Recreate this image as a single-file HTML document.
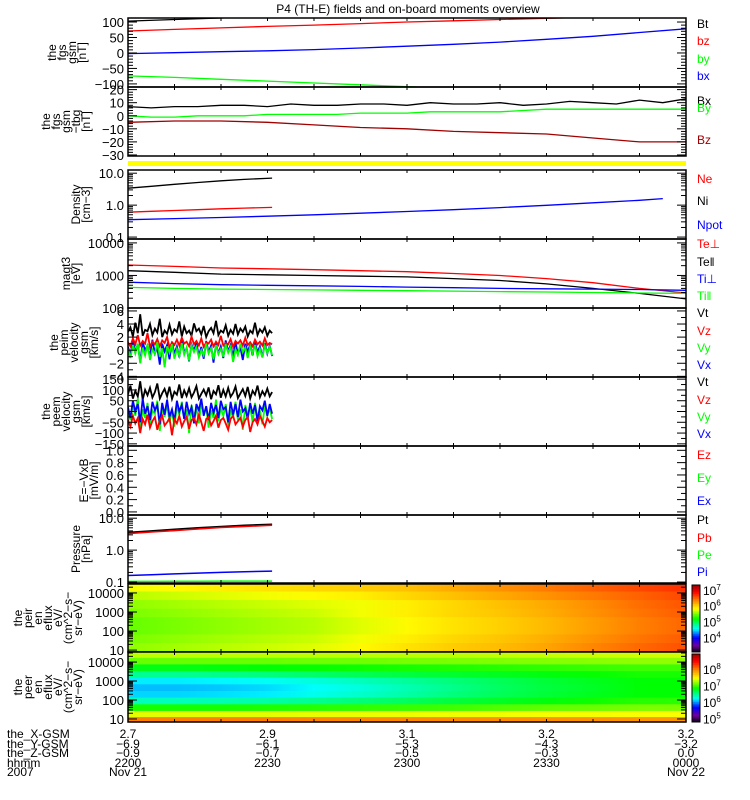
<!DOCTYPE html>
<html><head><meta charset="utf-8">
<style>
html,body{margin:0;padding:0;background:#fff;}
svg{display:block;font-family:"Liberation Sans",sans-serif;}
text{font-size:11px;}
</style></head>
<body>
<svg id="chart" width="750" height="800" viewBox="0 0 750 800">
<rect x="0" y="0" width="750" height="800" fill="#fff"/>
<text x="408" y="13" text-anchor="middle" style="font-size:12px">P4 (TH-E) fields and on-board moments overview</text>
<defs id="defs"></defs>
<g id="g"></g>
</svg>
<script>
// ---- data arrays ----
const t10 = [0,10,20,30,40,50,60,70,80,90,100,110,120];
const t5 = [0,5,10,15,20,25,30,35,40,45,50,55,60,65,70,75,80,85,90,95,100,105,110,115,120];
const fgsBt = [103,108,113,118,123,128,133,138,143,148,153,158,163];
const fgsBz = [71,76,81,86,90,95,100,104,108,112,116,120,124];
const fgsBy = [-74,-79,-85,-91,-97,-103,-109,-115,-121,-127,-133,-139,-145];
const fgsBx = [-2,1,4,7,11,16,22,28,35,44,54,66,78];
const tbgBx = [7,6,7,7,8,8,7,9,8,8,9,9,8,10,9,9,10,8,9,11,10,9,12,10,13];
const tbgBy = [0,-1,-1,0,0,0,1,1,1,1,2,2,2,3,3,3,3,4,5,5,5,5,5,5,5];
const tbgBz = [-5,-4,-4,-5,-7,-9,-10,-12,-13,-14,-17,-20,-20];
const tDens = [0,5,10,15,20,25,31];
const densNi = [3.4,3.9,4.5,5.1,5.8,6.4,7.0];
const densNe = [0.6,0.64,0.68,0.72,0.77,0.81,0.85];
const tNpot = [0,10,20,30,40,50,60,70,80,90,100,110,115];
const densNpot = [0.35,0.38,0.41,0.45,0.5,0.56,0.63,0.72,0.84,0.99,1.18,1.42,1.6];
const tempTePerp = [2100,1900,1700,1600,1500,1400,1300,1150,1000,800,600,400,290];
const tempTePar = [1400,1250,1100,1050,1000,950,900,800,700,550,400,280,190];
const tempTiPerp = [620,560,520,500,480,460,440,420,400,390,380,370,350];
const tempTiPar = [430,400,380,370,360,350,340,330,320,310,300,290,280];
const vimVt = [2.8,3.5,2.1,4.2,2.6,5.5,2.2,3.1,2.9,4.0,2.3,3.3,2.7,4.8,2.0,3.0,2.5,3.9,2.4,3.2,2.8,4.4,2.1,3.6,2.6,3.0,2.2,4.1,2.9,3.3,2.4,3.7,2.0,2.9,3.4,2.6,4.5,2.3,3.0,2.7,3.8,2.2,3.1,2.5,4.0,2.4,3.3,2.8,3.6,2.1,3.0,2.6,4.2,2.3,3.2,2.7,3.5,2.2,3.0,2.6];
const vimVz = [1.2,0.6,1.8,0.9,2.3,0.7,1.4,1.0,2.6,0.5,1.3,0.9,1.7,0.6,1.5,1.1,2.0,0.4,1.2,0.8,1.6,0.7,1.9,1.0,1.3,0.6,2.1,0.9,1.4,0.7,1.8,0.5,1.2,1.0,1.6,0.6,1.3,0.8,2.2,0.7,1.1,0.9,1.7,0.5,1.4,1.0,1.5,0.7,1.9,0.8,1.2,0.6,1.6,0.9,1.3,0.7,1.8,0.8,1.1,0.9];
const vimVy = [0.2,-1.2,0.8,-0.5,1.0,-2.0,0.4,-0.8,0.9,-1.5,0.1,-0.6,1.2,-1.0,0.3,-2.6,0.6,-0.4,0.9,-1.3,0.2,-0.9,1.1,-0.7,0.4,-1.6,0.7,-0.3,0.5,-1.1,0.0,-0.8,1.0,-0.5,0.3,-1.4,0.8,-0.6,0.2,-1.0,0.9,-0.4,0.5,-1.8,0.1,-0.7,1.0,-0.3,0.4,-1.2,0.6,-0.5,0.8,-0.9,0.2,-1.1,0.7,-0.4,0.5,-0.8];
const vimVx = [0.5,-0.8,1.5,-0.3,0.9,-1.8,1.2,0.0,0.7,-1.0,1.6,-0.5,0.4,-2.2,1.0,-0.2,0.8,-1.4,1.3,-0.6,0.6,-1.1,1.8,-0.4,0.3,-1.7,0.9,-0.1,1.1,-0.9,0.5,-1.3,1.4,-0.3,0.7,-1.9,1.0,-0.5,0.6,-1.2,1.5,-0.2,0.8,-1.0,1.2,-0.6,0.4,-1.5,1.0,-0.3,0.9,-0.8,1.3,-0.4,0.6,-1.1,1.1,-0.5,0.7,-0.9];
const vemVt = [80,120,60,95,70,140,55,100,75,110,65,90,130,60,85,105,70,115,58,92,78,125,62,98,72,108,66,88,118,60,82,102,74,112,57,95,80,122,64,100,70,110,68,86,116,62,84,104,72,114,60,96,78,120,66,94,74,106,70,90];
const vemVz = [-40,-70,-20,-55,-30,-100,-35,-60,-15,-75,-45,-25,-85,-40,-20,-65,-50,-30,-110,-35,-55,-20,-70,-45,-25,-80,-40,-30,-60,-15,-50,-90,-35,-25,-65,-45,-20,-75,-40,-30,-55,-85,-35,-20,-60,-45,-30,-70,-40,-25,-95,-50,-35,-60,-20,-45,-70,-30,-50,-40];
const vemVy = [0,-40,30,-20,60,-80,10,-30,40,-60,5,-10,50,-90,20,-25,35,-50,0,-70,25,-15,45,-35,10,-100,30,-20,15,-55,40,-10,20,-75,5,-30,55,-45,15,-20,35,-65,0,-25,45,-40,10,-85,30,-15,20,-50,40,-30,5,-60,25,-20,15,-35];
const vemVx = [20,-30,50,0,35,-50,60,-10,25,-40,45,5,30,-60,40,-15,55,-25,10,-45,50,0,30,-35,45,-10,20,-55,35,5,60,-20,25,-40,40,-5,30,-30,50,10,20,-50,45,-15,35,-25,55,0,15,-35,40,-10,30,-45,25,5,50,-20,35,-10];
const tPres = [0,5,10,15,20,25,31];
const presPt = [3.6,4.0,4.5,5.0,5.5,6.0,6.5];
const presPb = [3.3,3.7,4.1,4.6,5.1,5.5,6.0];
const presPi = [0.16,0.17,0.18,0.19,0.2,0.21,0.22];
const presPe = [0.105,0.105,0.106,0.106,0.107,0.107,0.107];
const eirE = [4.3,3.85,3.4,2.95,2.5,2.05,1.6,1.15];
const eirFlux = [
 [5.8,5.85,5.9,5.95,6.0,6.05,6.1,6.2,6.3,6.4,6.5,6.6,6.7],
 [5.65,5.7,5.75,5.8,5.85,5.9,6.0,6.1,6.2,6.3,6.4,6.5,6.6],
 [5.55,5.6,5.65,5.7,5.75,5.8,5.9,6.0,6.1,6.2,6.32,6.45,6.55],
 [5.5,5.55,5.6,5.65,5.7,5.8,5.9,6.0,6.08,6.18,6.3,6.42,6.52],
 [5.45,5.5,5.55,5.6,5.65,5.75,5.85,5.95,6.03,6.13,6.25,6.38,6.48],
 [5.45,5.5,5.55,5.6,5.65,5.75,5.85,5.95,6.03,6.13,6.25,6.38,6.48],
 [5.5,5.55,5.6,5.65,5.7,5.8,5.9,6.0,6.08,6.18,6.3,6.42,6.52],
 [5.55,5.6,5.65,5.7,5.75,5.85,5.95,6.05,6.12,6.22,6.35,6.47,6.57]];
const eerE = [4.4,4.05,3.7,3.35,3.0,2.65,2.3,1.95,1.6,1.25,0.95];
const eerFlux = [
 [7.3,7.3,7.3,7.3,7.3,7.3,7.3,7.3,7.32,7.33,7.34,7.35,7.35],
 [7.1,7.1,7.1,7.1,7.12,7.12,7.14,7.15,7.16,7.17,7.18,7.2,7.2],
 [6.8,6.8,6.82,6.84,6.86,6.88,6.9,6.92,6.94,6.96,6.98,7.0,7.0],
 [6.5,6.5,6.52,6.55,6.6,6.65,6.7,6.74,6.78,6.82,6.86,6.9,6.9],
 [6.2,6.2,6.22,6.26,6.32,6.4,6.48,6.56,6.64,6.72,6.78,6.84,6.85],
 [6.1,6.1,6.12,6.16,6.24,6.32,6.42,6.52,6.62,6.7,6.76,6.84,6.85],
 [6.15,6.15,6.17,6.2,6.28,6.36,6.45,6.55,6.64,6.72,6.78,6.84,6.85],
 [6.4,6.4,6.42,6.45,6.5,6.56,6.62,6.7,6.76,6.82,6.88,6.94,6.95],
 [6.9,6.9,6.9,6.92,6.94,6.96,6.98,7.0,7.04,7.08,7.1,7.14,7.15],
 [7.4,7.4,7.4,7.4,7.41,7.42,7.42,7.43,7.43,7.44,7.44,7.45,7.45],
 [8.0,8.0,8.0,8.0,7.98,7.97,7.96,7.95,7.94,7.93,7.92,7.9,7.9]];
const bottomRowLabels = ["the_X-GSM","the_Y-GSM","the_Z-GSM","hhmm","2007"];
const bottomTickMin = [0,30,60,90,120];
const bottomValues = [
 ["2.7","2.9","3.1","3.2","3.2"],
 ["\u22126.9","\u22126.1","\u22125.3","\u22124.3","\u22123.2"],
 ["\u22120.9","\u22120.7","\u22120.5","\u22120.3","0.0"],
 ["2200","2230","2300","2330","0000"],
 ["Nov 21","","","","Nov 22"]];

// ---- rendering ----
const NS="http://www.w3.org/2000/svg";
const G=document.getElementById('g');
const DEFS=document.getElementById('defs');
const X0=128, X1=686;
function xT(m){return X0+m*(X1-X0)/120;}
function mk(tag,attrs,parent){const e=document.createElementNS(NS,tag);for(const k in attrs)e.setAttribute(k,attrs[k]);(parent||G).appendChild(e);return e;}
function txt(x,y,s,attrs,parent){const e=mk('text',Object.assign({x:x,y:y},attrs||{}),parent);e.textContent=s;return e;}

const panels={};
function panel(id,top,bot,vmin,vmax,log){
  const p={id,top,bot,vmin,vmax,log};
  p.y=v=>{const a=log?Math.log10(v):v;return bot-(a-vmin)/(vmax-vmin)*(bot-top);};
  const cp=mk('clipPath',{id:'cp-'+id},DEFS);
  mk('rect',{x:X0,y:top,width:X1-X0,height:bot-top},cp);
  p.g=mk('g',{'clip-path':'url(#cp-'+id+')'});
  
  
  panels[id]=p;return p;
}
function frame(p){
  const f=mk('rect',{x:X0,y:p.top,width:X1-X0,height:p.bot-p.top,fill:'none',stroke:'#000','stroke-width':1.5});
  
  
  for(let m=10;m<120;m+=10){
    mk('line',{x1:xT(m),x2:xT(m),y1:p.top,y2:p.top+3,stroke:'#000'});
    mk('line',{x1:xT(m),x2:xT(m),y1:p.bot,y2:p.bot-3,stroke:'#000'});
  }
}
function yticks(p,major,labels,minor){
  major.forEach((v,i)=>{const y=p.y(v);
    mk('line',{x1:X0,x2:X0+9,y1:y,y2:y,stroke:'#000'});
    mk('line',{x1:X1-9,x2:X1,y1:y,y2:y,stroke:'#000'});
    const l=txt(124,y+5,labels[i],{'text-anchor':'end',style:'font-size:13px'});
    
    
  });
  (minor||[]).forEach(v=>{const y=p.y(v);
    mk('line',{x1:X0,x2:X0+5,y1:y,y2:y,stroke:'#000'});
    mk('line',{x1:X1-5,x2:X1,y1:y,y2:y,stroke:'#000'});
  });
}
function logMinor(d0,d1){const r=[];for(let d=d0;d<d1;d++)for(let k=2;k<10;k++)r.push(k*Math.pow(10,d));return r;}
function line(p,ts,vs,color,name,w){
  const pts=ts.map((t,i)=>xT(t).toFixed(1)+','+p.y(vs[i]).toFixed(1)).join(' ');
  const e=mk('polyline',{points:pts,fill:'none',stroke:color,'stroke-width':w||1.3},p.g);
  
  
}
function seqT(n,end){const r=[];for(let i=0;i<n;i++)r.push(i*end/(n-1));return r;}
function ylabel(p,lines,xr){
  const cy=(p.top+p.bot)/2;
  const n=lines.length;
  lines.forEach((s,i)=>{const x=xr-(n-1-i)*10;
    const e=txt(x,cy,s,{transform:'rotate(-90 '+x+' '+cy+')','text-anchor':'middle',style:'font-size:12px'});
    
    
  });
}
function legend(items){
  items.forEach(([s,c,y])=>{const e=txt(697,y+4,s,{fill:c,style:'font-size:12px'});
    
    });
}
const cmStops=[[0,[0,0,0]],[0.1,[110,0,160]],[0.22,[0,0,255]],[0.35,[0,255,255]],[0.5,[0,255,0]],[0.65,[255,255,0]],[0.78,[255,128,0]],[0.9,[255,0,0]],[1,[160,0,0]]];
function cmap(f){f=Math.max(0,Math.min(1,f));for(let i=1;i<cmStops.length;i++){if(f<=cmStops[i][0]){const a=cmStops[i-1],b=cmStops[i];const u=(f-a[0])/(b[0]-a[0]);const c=a[1].map((v,k)=>Math.round(v+(b[1][k]-v)*u));return 'rgb('+c.join(',')+')';}}return 'rgb(160,0,0)';}
function spec(p,E,F,zmin,zmax,name){
  for(let r=0;r<E.length;r++){
    const eTop=r===0?E[0]+(E[0]-E[1])/2:(E[r-1]+E[r])/2;
    const eBot=r===E.length-1?E[r]-(E[r-1]-E[r])/2:(E[r]+E[r+1])/2;
    const yT=p.bot-(eTop-p.vmin)/(p.vmax-p.vmin)*(p.bot-p.top);
    const yB=p.bot-(eBot-p.vmin)/(p.vmax-p.vmin)*(p.bot-p.top);
    const gid='grad-'+name+'-'+r;
    const lg=mk('linearGradient',{id:gid,x1:0,x2:1,y1:0,y2:0},DEFS);
    for(let c=0;c<t10.length;c++){
      mk('stop',{offset:(t10[c]/120).toFixed(4),'stop-color':cmap((F[r][c]-zmin)/(zmax-zmin))},lg);
    }
    const e=mk('rect',{x:X0,y:yT.toFixed(1),width:X1-X0,height:(yB-yT+0.7).toFixed(1),fill:'url(#'+gid+')'},p.g);
    
    
  }
}
function colorbar(top,bot,zmin,zmax,labels,name){
  const g=mk('g',{});
  
  
  const n=40;for(let i=0;i<n;i++){const y=bot-(i+1)*(bot-top)/n;
    mk('rect',{x:692,y:y.toFixed(1),width:8,height:((bot-top)/n+0.5).toFixed(1),fill:cmap((i+0.5)/n)},g);}
  mk('rect',{x:692,y:top,width:8,height:bot-top,fill:'none',stroke:'#000'},g);
  labels.forEach(d=>{const y=bot-(d-zmin)/(zmax-zmin)*(bot-top);
    const e=txt(703,y+5,'10',{style:'font-size:12px'},g);
    const s=mk('tspan',{dy:-5,style:'font-size:8px'},e);s.textContent=String(d);});
}

let p=panel('fgs-gsm',18,87,-110,113,false);
line(p,t10,fgsBt,'#000','series-bt');line(p,t10,fgsBz,'#ff0000','series-bz');
line(p,t10,fgsBy,'#00ff00','series-by');line(p,t10,fgsBx,'#0000ff','series-bx');
frame(p);yticks(p,[100,50,0,-50,-100],['100','50','0','\u221250','\u2212100'],[90,80,70,60,40,30,20,10,-10,-20,-30,-40,-60,-70,-80,-90]);
ylabel(p,['the','fgs','gsm','[nT]'],86);
legend([['Bt','#000',24],['bz','#ff0000',41],['by','#00ff00',59],['bx','#0000ff',76]]);

p=panel('fgs-gsm-tbg',87,156,-30.8,22,false);
line(p,t5,tbgBx,'#000','series-tbg-bx');line(p,t5,tbgBy,'#00ff00','series-tbg-by');line(p,t10,tbgBz,'#a00000','series-tbg-bz');
frame(p);yticks(p,[20,10,0,-10,-20,-30],['20','10','0','\u221210','\u221220','\u221230'],[18,16,14,12,8,6,4,2,-2,-4,-6,-8,-12,-14,-16,-18,-22,-24,-26,-28]);
ylabel(p,['the','fgs','gsm','\u2212tbg','[nT]'],90);
legend([['Bx','#000',101],['By','#00ff00',108],['Bz','#a00000',140]]);
const yb=mk('rect',{x:X0,y:161,width:X1-X0,height:5,fill:'#ffff00'});



p=panel('density',170,239,-1.06,1.1,true);
line(p,tDens,densNi,'#000','series-ni');line(p,tDens,densNe,'#ff0000','series-ne');line(p,tNpot,densNpot,'#0000ff','series-npot');
frame(p);yticks(p,[10,1,0.1],['10.0','1.0','0.1'],logMinor(-1,1));
ylabel(p,['Density','[cm\u22123]'],90);
legend([['Ne','#ff0000',179],['Ni','#000',201],['Npot','#0000ff',225]]);

p=panel('magt3',239,308,2,4.12,true);
line(p,t10,tempTePerp,'#ff0000','series-te-perp');line(p,t10,tempTePar,'#000','series-te-par');
line(p,t10,tempTiPerp,'#0000ff','series-ti-perp');line(p,t10,tempTiPar,'#00ff00','series-ti-par');
frame(p);yticks(p,[10000,1000,100],['10000','1000','100'],logMinor(2,4));
ylabel(p,['magt3','[eV]'],80);
legend([['Te\u22a5','#ff0000',244],['Te\u2016','#000',262],['Ti\u22a5','#0000ff',279],['Ti\u2016','#00ff00',296]]);

p=panel('peim-velocity',308,377,-4.1,6.45,false);
const tv=seqT(60,31);
line(p,tv,vimVt,'#000','series-peim-vt',1.8);line(p,tv,vimVx,'#0000ff','series-peim-vx',1.8);
line(p,tv,vimVz,'#ff0000','series-peim-vz',1.8);line(p,tv,vimVy,'#00ff00','series-peim-vy',1.8);
frame(p);yticks(p,[6,4,2,0,-2,-4],['6','4','2','0','\u22122','\u22124'],[5,3,1,-1,-3]);
ylabel(p,['the','peim','velocity','gsm','[km/s]'],98);
legend([['Vt','#000',313],['Vz','#ff0000',331],['Vy','#00ff00',348],['Vx','#0000ff',365]]);

p=panel('peem-velocity',377,446,-160,160,false);
line(p,tv,vemVt,'#000','series-peem-vt',1.8);line(p,tv,vemVy,'#00ff00','series-peem-vy',1.8);
line(p,tv,vemVx,'#0000ff','series-peem-vx',1.8);line(p,tv,vemVz,'#ff0000','series-peem-vz',1.8);
frame(p);yticks(p,[150,100,50,0,-50,-100,-150],['150','100','50','0','\u221250','\u2212100','\u2212150'],[125,75,25,-25,-75,-125]);
ylabel(p,['the','peem','velocity','gsm','[km/s]'],90);
legend([['Vt','#000',382],['Vz','#ff0000',400],['Vy','#00ff00',417],['Vx','#0000ff',434]]);

p=panel('e-vxb',446,515,-0.05,1.07,false);
frame(p);yticks(p,[1,0.8,0.6,0.4,0.2,0],['1.0','0.8','0.6','0.4','0.2','0.0'],[0.9,0.7,0.5,0.3,0.1]);
ylabel(p,['E=\u2212VxB','[mV/m]'],98);
legend([['Ez','#ff0000',455],['Ey','#00ff00',478],['Ex','#0000ff',501]]);

p=panel('pressure',515,583,-1.03,1.1,true);
line(p,tPres,presPt,'#000','series-pt',1.5);line(p,tPres,presPb,'#ff0000','series-pb',1.5);
line(p,tPres,presPi,'#0000ff','series-pi',1.5);line(p,tPres,presPe,'#00ff00','series-pe',1.5);
frame(p);yticks(p,[10,1,0.1],['10.0','1.0','0.1'],logMinor(-1,1));
ylabel(p,['Pressure','[nPa]'],90);
legend([['Pt','#000',520],['Pb','#ff0000',538],['Pe','#00ff00',555],['Pi','#0000ff',572]]);

p=panel('peir-spectrogram',584,652,0.9,4.47,false);
spec(p,eirE,eirFlux,3.1,7.3,'peir');
frame(p);yticks(p,[4,3,2,1],['10000','1000','100','10'],[]);
ylabel(p,['the','peir','en','eflux','eV/','(cm^2\u2212s\u2212','sr\u2212eV)'],82);
colorbar(585,652,3.1,7.3,[7,6,5,4],'peir-colorbar');

p=panel('peer-spectrogram',652,722,0.84,4.53,false);
spec(p,eerE,eerFlux,4.8,8.9,'peer');
frame(p);yticks(p,[4,3,2,1],['10000','1000','100','10'],[]);
ylabel(p,['the','peer','en','eflux','eV/','(cm^2\u2212s\u2212','sr\u2212eV)'],82);
colorbar(654,722,4.8,8.9,[8,7,6,5],'peer-colorbar');

[['peir-spectrogram',1,4],['peer-spectrogram',1,4]].forEach(([id,a,b])=>{const q=panels[id];
  for(let d=a;d<=b;d++)for(let k=2;k<10;k++){const v=d+Math.log10(k);if(v>q.vmax)continue;const y=q.y(v);
    mk('line',{x1:X0,x2:X0+5,y1:y,y2:y,stroke:'#000'});mk('line',{x1:X1-5,x2:X1,y1:y,y2:y,stroke:'#000'});}});

const rowY=[738,748,757,767,776];
bottomRowLabels.forEach((s,i)=>{const e=txt(7,rowY[i],s,{style:'font-size:12px'});
  
  
  bottomValues[i].forEach((v,j)=>{if(!v)return;const f=txt(xT(bottomTickMin[j]),rowY[i],v,{'text-anchor':'middle',style:'font-size:12px'});
    
    });
});
</script>
</body></html>
